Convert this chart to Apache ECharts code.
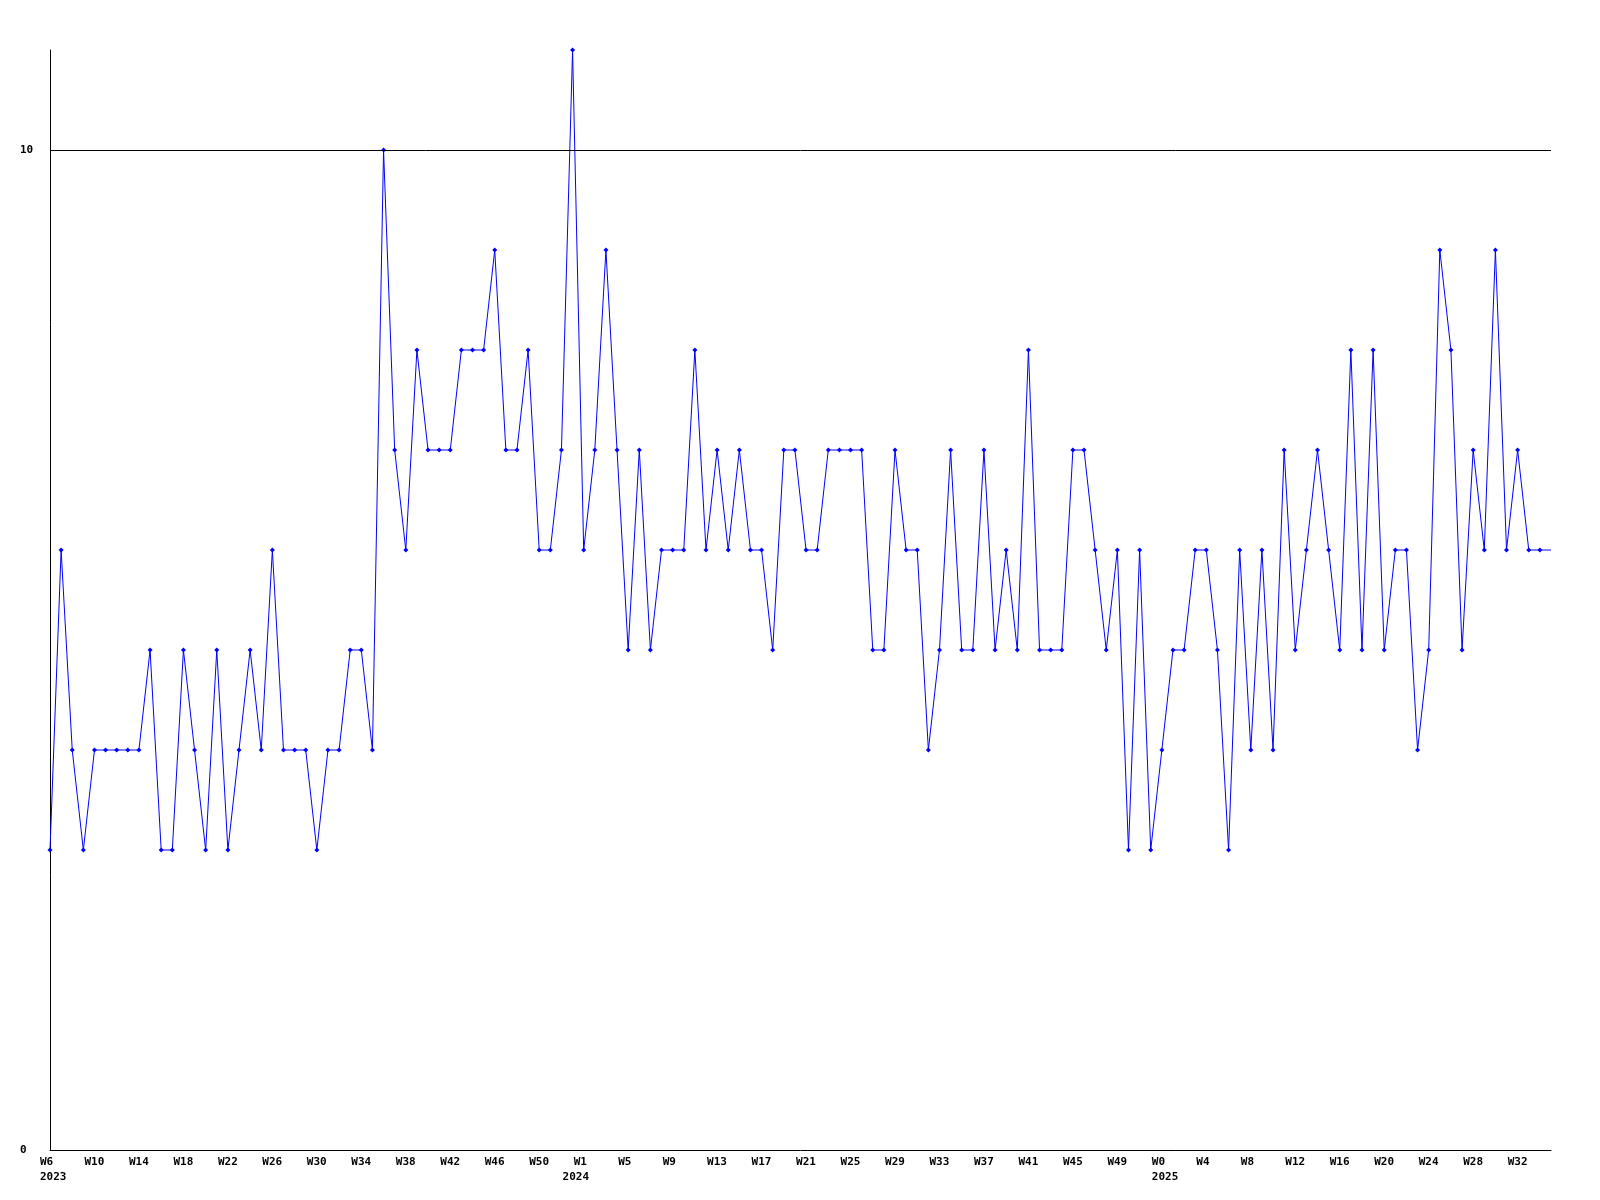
<!DOCTYPE html>
<html><head><meta charset="utf-8">
<script src="https://cdn.jsdelivr.net/npm/echarts@6/dist/echarts.min.js"></script>
<style>html,body{margin:0;padding:0;background:#fff}#c{width:1600px;height:1200px}</style>
</head><body><div id="c"></div>
<script>
// Weekly values
const values2023 = [3,6,4,3,4,4,4,4,4,5,3,3,5,4,3,5,3,4,5,4,6,4,4,4,3,4,4,5,5,4,10,7,6,8,7,7,7,8,8,8,9,7,7,8,6,6,7,11];
const values2024 = [6,7,9,7,5,7,5,6,6,6,8,6,7,6,7,6,6,5,7,7,6,6,7,7,7,7,5,5,7,6,6,4,5,7,5,5,7,5,6,5,8,5,5,5,7,7,6,5,6,3,6,3];
const values2025 = [4,5,5,6,6,5,3,6,4,6,4,7,5,6,7,6,5,8,5,8,5,6,6,4,5,9,8,5,7,6,9,6,7,6,6,6];
const years = [2023, 2024, 2025];
const firstWeeks = [6, 1, 0];
// year captions: bucket index at which each year caption is printed
const yearCaptionAt = { 0: '2023', 47: '2024', 100: '2025' };
const yTickLabels = [0, 10];
const gridValue = 10;

const categories = [];
const seriesData = [];
[values2023, values2024, values2025].forEach((vals, k) => {
  vals.forEach((v, i) => {
    categories.push(years[k] + '-W' + (firstWeeks[k] + i));
    seriesData.push(v);
  });
});
// last bucket is drawn without a marker
seriesData[seriesData.length - 1] = { value: seriesData[seriesData.length - 1], symbol: 'none' };

const font = { fontFamily: 'DejaVu Sans Mono', fontWeight: 'bold', fontSize: 11, color: '#000' };

const chart = echarts.init(document.getElementById('c'), null, { renderer: 'canvas' });
chart.setOption({
  animation: false,
  backgroundColor: '#fff',
  grid: [
    { left: 50, right: 49, top: 50, bottom: 50 },
    { left: 40, right: 59, top: 50, bottom: 50 },
    { left: 40, right: 59, top: 50, bottom: 50 }
  ],
  xAxis: [
    {
      type: 'category', gridIndex: 0, data: categories, boundaryGap: false,
      axisLine: { show: true, lineStyle: { color: '#000', width: 1 } },
      axisTick: { show: false }, axisLabel: { show: false }, splitLine: { show: false }
    },
    {
      type: 'category', gridIndex: 1, data: categories, boundaryGap: false,
      axisLine: { show: false }, axisTick: { show: false }, splitLine: { show: false },
      axisLabel: Object.assign({
        interval: 3, align: 'left', margin: 5, lineHeight: 15,
        formatter: (val) => val.split('-')[1]
      }, font)
    },
    {
      type: 'category', gridIndex: 2, data: categories, boundaryGap: false,
      axisLine: { show: false }, axisTick: { show: false }, splitLine: { show: false },
      axisLabel: Object.assign({
        interval: (idx) => yearCaptionAt[idx] !== undefined,
        align: 'left', margin: 20, lineHeight: 15,
        formatter: (val, idx) => yearCaptionAt[idx] || ''
      }, font)
    }
  ],
  yAxis: [
    {
      type: 'value', gridIndex: 0, min: 0, max: 11, interval: 10,
      axisLine: { show: true, lineStyle: { color: '#000', width: 1 } },
      axisTick: { show: false }, splitLine: { show: false },
      axisLabel: Object.assign({
        align: 'left', margin: 30,
        formatter: (v) => yTickLabels.includes(v) ? String(v) : ''
      }, font)
    },
    { type: 'value', gridIndex: 1, min: 0, max: 11, show: false },
    { type: 'value', gridIndex: 2, min: 0, max: 11, show: false }
  ],
  series: [{
    type: 'line', xAxisIndex: 0, yAxisIndex: 0, data: seriesData,
    color: '#0000ff',
    lineStyle: { color: '#0000ff', width: 1 },
    itemStyle: { color: '#0000ff' },
    symbol: 'diamond', symbolSize: 5, showSymbol: true, showAllSymbol: true,
    emphasis: { disabled: true },
    markLine: {
      silent: true, symbol: 'none', label: { show: false },
      lineStyle: { color: '#000', width: 1, type: 'solid' },
      data: [{ yAxis: gridValue }]
    }
  }]
});
</script>
</body></html>
